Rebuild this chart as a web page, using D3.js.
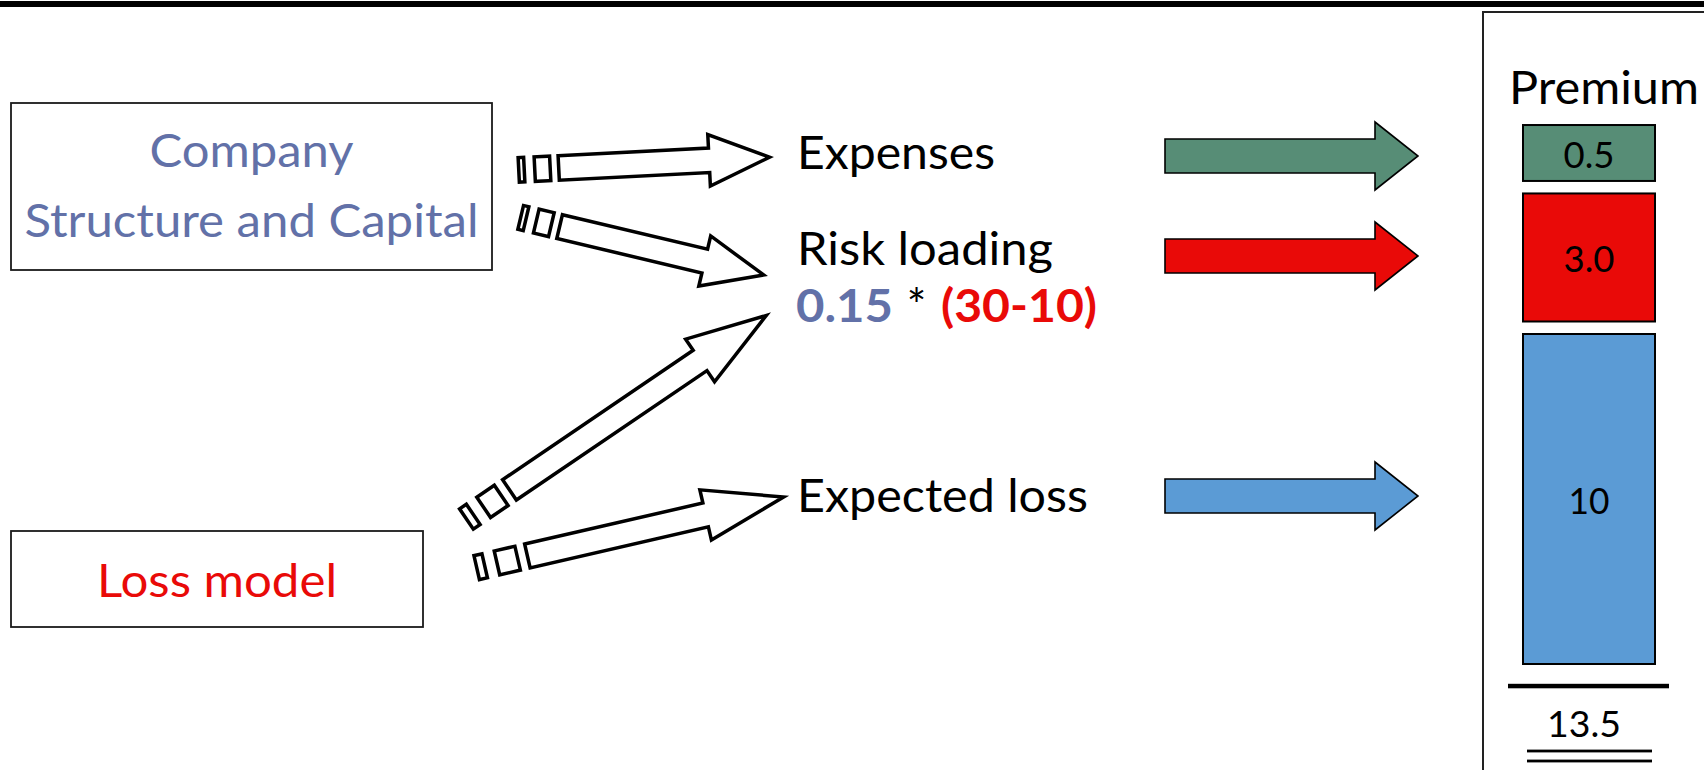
<!DOCTYPE html>
<html>
<head>
<meta charset="utf-8">
<script src="https://cdn.jsdelivr.net/npm/d3@7"></script>
<style>
  html, body { margin: 0; padding: 0; background: #ffffff; }
  svg { display: block; }
  text { font-family: Lato, "Open Sans", "Noto Sans", sans-serif; }
</style>
</head>
<body>
<svg id="chart"></svg>
<script>
// Premium build-up: components flowing into the premium stack
const categories = ["Expenses", "Risk loading", "Expected loss"];
const premiumValues = [0.5, 3.0, 10];
const premiumLabels = ["0.5", "3.0", "10"];
const categoryColors = ["#578D76", "#E90A08", "#5B9BD5"];
const sourceLines = [["Company", "Structure and Capital"], ["Loss model"]];
const sourceColors = ["#6271A8", "#E90A08"];
const formulaParts = ["0.15", "*", "(30-10)"];
const formulaColors = ["#6271A8", "#000000", "#E90A08"];
const panelTitle = "Premium";

const W = 1704, H = 770;
const svg = d3.select("#chart").attr("width", W).attr("height", H);

// ---- layout ----
const rowArrowY = [156, 256, 496];          // centre line of the coloured arrows
const rowLabelBaseline = [169, 265, 512];   // baselines of the row labels
const rowLabelLength = [198, 256, 291];
const labelX = 797;
const mainFont = 46;

// top rule
svg.append("rect").attr("x", 0).attr("y", 1).attr("width", W).attr("height", 6).attr("fill", "#000");

// source boxes
const sourceBoxes = [
  { x: 11, y: 103, w: 481, h: 167, baselines: [167, 237], lengths: [204, 454] },
  { x: 11, y: 531, w: 412, h: 96, baselines: [597], lengths: [240] }
];
sourceBoxes.forEach((b, i) => {
  svg.append("rect")
    .attr("x", b.x).attr("y", b.y).attr("width", b.w).attr("height", b.h)
    .attr("fill", "#fff").attr("stroke", "#1a1a1a").attr("stroke-width", 1.8);
  sourceLines[i].forEach((line, j) => {
    svg.append("text")
      .attr("x", b.x + b.w / 2).attr("y", b.baselines[j])
      .attr("text-anchor", "middle")
      .attr("font-size", mainFont)
      .attr("fill", sourceColors[i])
      .attr("textLength", b.lengths[j])
      .attr("lengthAdjust", "spacingAndGlyphs")
      .text(line);
  });
});

// hollow striped connector arrows
const connectors = [
  { from: [517, 170], to: [774, 157], s: 1.0 },
  { from: [519, 217], to: [768, 276], s: 1.0 },
  { from: [465, 520], to: [770, 313], s: 1.3 },
  { from: [475, 568], to: [788, 496], s: 1.3 }
];
function stripedArrow(L, s) {
  const hw = 14, hh = 27.5, i = 1.75;
  const hb = L - 65 * s;
  const tip = L - 4.5;
  const p1 = d3.path();
  p1.moveTo(i, -(hw - i)); p1.lineTo(9 * s - i, -(hw - i)); p1.lineTo(9 * s - i, hw - i); p1.lineTo(i, hw - i); p1.closePath();
  const p2 = d3.path();
  p2.moveTo(16 * s + i, -(hw - i)); p2.lineTo(35 * s - i, -(hw - i)); p2.lineTo(35 * s - i, hw - i); p2.lineTo(16 * s + i, hw - i); p2.closePath();
  const p3 = d3.path();
  p3.moveTo(40 * s + i, -(hw - i));
  p3.lineTo(hb, -(hw - i));
  p3.lineTo(hb, -(hh - i));
  p3.lineTo(tip, 0);
  p3.lineTo(hb, hh - i);
  p3.lineTo(hb, hw - i);
  p3.lineTo(40 * s + i, hw - i);
  p3.closePath();
  return [p1.toString(), p2.toString(), p3.toString()];
}
const connG = svg.append("g");
connectors.forEach(c => {
  const dx = c.to[0] - c.from[0], dy = c.to[1] - c.from[1];
  const L = Math.hypot(dx, dy);
  const ang = Math.atan2(dy, dx) * 180 / Math.PI;
  const g = connG.append("g").attr("transform", `translate(${c.from[0]},${c.from[1]}) rotate(${ang})`);
  g.selectAll("path").data(stripedArrow(L, c.s)).join("path")
    .attr("d", d => d)
    .attr("fill", "#fff").attr("stroke", "#000").attr("stroke-width", 3.5)
    .attr("stroke-linejoin", "miter");
});

// row labels
categories.forEach((c, i) => {
  svg.append("text")
    .attr("x", labelX).attr("y", rowLabelBaseline[i])
    .attr("font-size", mainFont).attr("fill", "#000")
    .attr("textLength", rowLabelLength[i]).attr("lengthAdjust", "spacingAndGlyphs")
    .text(c);
});

// risk loading formula
const formulaLayout = [
  { x: 796, anchor: "start", weight: 700, len: 97 },
  { x: 916.5, anchor: "middle", weight: 400, len: null },
  { x: 941, anchor: "start", weight: 700, len: 156 }
];
formulaParts.forEach((p, i) => {
  const t = svg.append("text")
    .attr("x", formulaLayout[i].x).attr("y", 322)
    .attr("text-anchor", formulaLayout[i].anchor)
    .attr("font-size", mainFont).attr("font-weight", formulaLayout[i].weight)
    .attr("fill", formulaColors[i])
    .text(p);
  if (formulaLayout[i].len) t.attr("textLength", formulaLayout[i].len).attr("lengthAdjust", "spacingAndGlyphs");
});

// coloured block arrows into the premium stack
const arrowX0 = 1165, arrowBase = 1375, arrowTip = 1418, shaftHalf = 17, headHalf = 34;
svg.append("g").selectAll("path").data(categories).join("path")
  .attr("d", (d, i) => {
    const cy = rowArrowY[i];
    const p = d3.path();
    p.moveTo(arrowX0, cy - shaftHalf);
    p.lineTo(arrowBase, cy - shaftHalf);
    p.lineTo(arrowBase, cy - headHalf);
    p.lineTo(arrowTip, cy);
    p.lineTo(arrowBase, cy + headHalf);
    p.lineTo(arrowBase, cy + shaftHalf);
    p.lineTo(arrowX0, cy + shaftHalf);
    p.closePath();
    return p.toString();
  })
  .attr("fill", (d, i) => categoryColors[i])
  .attr("stroke", "#000").attr("stroke-width", 1.6);

// premium panel frame
svg.append("path")
  .attr("d", `M1483,${H + 2} V12 H${W + 4}`)
  .attr("fill", "none").attr("stroke", "#222").attr("stroke-width", 2);

svg.append("text")
  .attr("x", 1509).attr("y", 104)
  .attr("font-size", mainFont).attr("fill", "#000")
  .attr("textLength", 190).attr("lengthAdjust", "spacingAndGlyphs")
  .text(panelTitle);

// stacked premium bars (bar heights carry a fixed base so small parts stay legible)
const barH = d3.scaleLinear().domain([0, 10]).range([41.5, 330]);
const barX = 1523, barW = 132, stackBottom = 664, barGap = 12.5;
const bars = [];
let yCursor = stackBottom;
for (let i = premiumValues.length - 1; i >= 0; i--) {
  const h = barH(premiumValues[i]);
  bars[i] = { top: yCursor - h, h: h, value: premiumValues[i], label: premiumLabels[i], color: categoryColors[i] };
  yCursor = yCursor - h - barGap;
}
const barG = svg.append("g");
barG.selectAll("rect").data(bars).join("rect")
  .attr("x", barX).attr("y", d => d.top)
  .attr("width", barW).attr("height", d => d.h)
  .attr("fill", d => d.color)
  .attr("stroke", "#000").attr("stroke-width", 2);
const labelLen = { "0.5": 51, "3.0": 51, "10": 41 };
barG.selectAll("text").data(bars).join("text")
  .attr("x", barX + barW / 2)
  .attr("y", d => d.top + d.h / 2 + 15)
  .attr("text-anchor", "middle")
  .attr("font-size", 36).attr("fill", "#000")
  .attr("textLength", d => labelLen[d.label]).attr("lengthAdjust", "spacingAndGlyphs")
  .text(d => d.label);

// total with accounting rules
const total = d3.sum(premiumValues);
svg.append("rect").attr("x", 1508).attr("y", 683.8).attr("width", 161).attr("height", 4.5).attr("fill", "#000");
svg.append("text")
  .attr("x", 1584).attr("y", 737)
  .attr("text-anchor", "middle")
  .attr("font-size", 36).attr("fill", "#000")
  .attr("textLength", 74).attr("lengthAdjust", "spacingAndGlyphs")
  .text(d3.format(".1f")(total));
[751, 761].forEach(y => {
  svg.append("rect").attr("x", 1527).attr("y", y - 1.4).attr("width", 125).attr("height", 2.8).attr("fill", "#000");
});
</script>
</body>
</html>
